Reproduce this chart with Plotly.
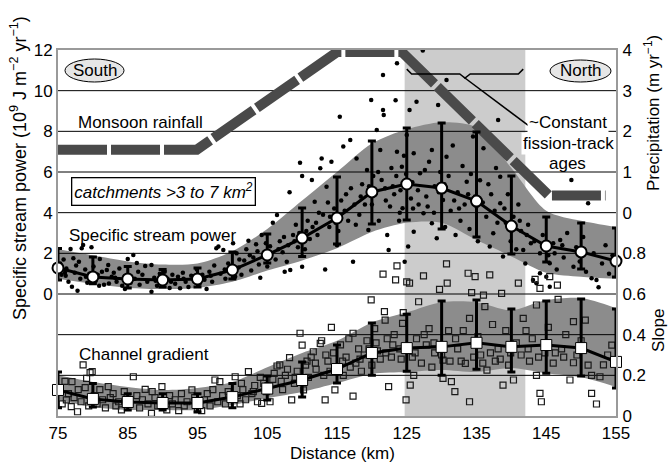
import plotly.graph_objects as go

# ---------------- data ----------------
km_bins = [75, 80, 85, 90, 95, 100, 105, 110, 115, 120, 125, 130, 135, 140, 145, 150, 155]

# specific stream power (10^9 J m^-2 yr^-1): bin means, error-bar ends, envelope
sp_mean = [1.28, 0.84, 0.74, 0.69, 0.74, 1.18, 1.92, 2.75, 3.74, 5.02, 5.41, 5.21, 4.57, 3.34, 2.36, 2.07, 1.62]
sp_hi = [2.24, 1.82, 1.35, 1.20, 1.28, 2.07, 2.95, 4.23, 5.75, 7.53, 8.17, 8.41, 7.97, 5.80, 3.79, 3.49, 3.25]
sp_lo = [0.69, 0.50, 0.30, 0.34, 0.34, 0.74, 1.52, 1.85, 2.46, 3.44, 3.64, 3.20, 2.80, 1.97, 1.57, 1.23, 0.84]
sp_env_hi = [2.2, 1.9, 1.6, 1.45, 1.5, 2.1, 3.2, 4.6, 6.0, 7.4, 8.1, 8.45, 8.2, 6.2, 4.1, 3.6, 3.3]
sp_env_lo = [0.75, 0.5, 0.3, 0.25, 0.3, 0.6, 1.15, 1.65, 2.25, 3.05, 3.5, 3.5, 2.65, 1.85, 1.05, 0.85, 0.75]

# channel gradient (slope)
sl_mean = [0.128, 0.084, 0.069, 0.064, 0.064, 0.093, 0.135, 0.177, 0.231, 0.31, 0.334, 0.34, 0.36, 0.34, 0.349, 0.334, 0.266]
sl_hi = [0.216, 0.16, 0.11, 0.11, 0.11, 0.16, 0.197, 0.266, 0.349, 0.457, 0.5, 0.566, 0.57, 0.526, 0.566, 0.575, 0.526]
sl_lo = [0.04, 0.044, 0.03, 0.03, 0.02, 0.04, 0.079, 0.093, 0.162, 0.2, 0.22, 0.2, 0.23, 0.216, 0.21, 0.197, 0.138]
sl_env_hi = [0.2, 0.167, 0.143, 0.128, 0.138, 0.167, 0.24, 0.31, 0.37, 0.46, 0.51, 0.56, 0.56, 0.52, 0.57, 0.58, 0.53]
sl_env_lo = [0.08, 0.044, 0.03, 0.03, 0.03, 0.054, 0.088, 0.118, 0.162, 0.207, 0.216, 0.226, 0.216, 0.236, 0.21, 0.19, 0.143]

# monsoon rainfall profile (m/yr)
rain_km = [75, 94.9, 115.0, 124.3, 145.4, 153.5]
rain_p = [1.55, 1.55, 3.95, 3.95, 0.42, 0.42]

# zone of ~constant fission-track ages (km)
ft_zone = [124.7, 142.0]

# individual catchments: stream power
sp_dots_south = [
    [75.3, 1.5], [75.5, 0.95], [75.8, 1.7], [76.1, 0.9], [76.2, 1.25], [76.5, 0.6], [76.8, 2.21], [77.0, 0.36],
    [77.2, 1.76], [77.4, 1.05], [77.8, 0.16], [78.0, 1.59], [78.2, 0.75], [78.4, 2.25], [78.6, 2.41], [78.9, 1.2],
    [79.2, 0.55], [79.5, 1.0], [79.8, 2.3], [80.1, 1.35], [80.4, 0.65], [80.7, 0.95], [81.0, 1.72], [81.3, 1.1],
    [81.6, 0.45], [82.0, 1.18], [82.2, 1.43], [82.3, 0.52], [82.7, 0.85], [83.0, 1.05], [83.4, 0.6], [83.8, 1.25],
    [84.2, 0.4], [84.6, 0.25], [84.9, 0.9], [85.0, 1.72], [85.4, 0.55], [85.8, 1.92], [86.0, 0.75], [86.3, 1.52],
    [86.7, 0.45], [87.1, 0.95], [87.5, 1.38], [87.8, 0.6], [88.4, 1.43], [88.4, 0.11], [88.8, 0.8], [89.2, 0.4],
    [89.6, 1.0], [90.0, 0.55], [90.3, 1.1], [90.7, 0.75], [91.0, 0.3], [91.4, 0.95], [91.8, 0.5], [92.2, 0.85],
    [92.5, 0.28], [92.9, 1.05], [93.3, 0.6], [93.7, 0.35], [94.1, 0.9], [94.5, 0.65], [94.9, 1.2], [95.3, 0.5],
    [95.7, 0.95], [96.0, 0.7], [96.3, 0.25], [96.7, 1.1], [97.1, 0.6], [97.4, 1.4], [97.7, 2.25], [98.0, 2.33],
    [98.3, 1.0], [98.7, 2.16], [99.0, 0.75], [99.4, 1.5], [99.8, 1.05],
    [76.0, 1.05], [77.6, 1.4], [79.0, 0.85], [80.9, 0.4], [83.2, 0.8], [86.5, 1.1], [89.0, 0.65], [91.2, 0.6],
    [93.0, 0.75], [95.0, 0.85], [96.9, 0.9], [98.9, 1.2],
]
sp_dots_mid = [
    [100.1, 2.49], [100.4, 0.85], [100.6, 2.0], [100.9, 1.3], [101.3, 0.95], [101.7, 1.65], [102.0, 2.2], [102.3, 2.62],
    [102.7, 1.15], [103.0, 1.8], [103.4, 2.45], [103.8, 1.45], [104.0, 0.8], [104.2, 2.9], [104.6, 1.95], [105.0, 1.35],
    [105.4, 2.35], [105.8, 3.5], [106.2, 1.7], [106.4, 3.89], [106.8, 2.6], [107.2, 2.05], [107.5, 1.1], [107.8, 1.59],
    [108.2, 5.0], [108.3, 1.18], [108.7, 2.9], [109.1, 3.4], [109.4, 2.3], [109.7, 6.46], [110.0, 5.8], [110.0, 1.34],
    [110.4, 2.2], [110.8, 3.6], [111.1, 2.7], [111.4, 5.61], [111.8, 4.54], [112.2, 2.9], [112.6, 6.18], [112.8, 6.67],
    [113.0, 3.9], [113.3, 1.21], [113.5, 5.28], [113.9, 3.3], [114.2, 6.51], [114.6, 4.2], [115.0, 2.4], [115.2, 3.1],
    [115.4, 8.72], [115.9, 7.25], [116.3, 4.9], [116.6, 3.6], [116.9, 7.57], [117.3, 1.59], [117.5, 4.4], [117.8, 6.67],
    [118.2, 3.9], [118.6, 5.4], [119.0, 4.4], [119.3, 6.1], [119.5, 3.15], [119.9, 9.54], [120.2, 5.8], [120.5, 4.9],
    [120.7, 8.07], [121.0, 3.6], [121.2, 7.08], [121.4, 5.61], [121.6, 10.77], [121.6, 9.05], [121.7, 8.8], [122.0, 4.6],
    [122.2, 2.9], [122.4, 2.16], [122.8, 6.2], [123.0, 5.3], [123.2, 4.9], [123.4, 9.53], [123.6, 11.35], [123.6, 7.0],
    [123.9, 3.6], [124.0, 4.0], [124.3, 6.26], [124.4, 4.22], [124.7, 1.59], [124.9, 5.9],
    [101.0, 1.7], [102.5, 1.9], [103.6, 2.1], [104.8, 2.5], [105.6, 2.0], [106.6, 2.2], [107.4, 2.8], [108.0, 2.4],
    [108.9, 2.6], [109.6, 3.0], [110.6, 3.1], [111.5, 3.3], [112.0, 3.5], [112.4, 4.0], [113.7, 4.5], [114.0, 3.8],
    [114.8, 3.5], [115.6, 4.6], [116.1, 4.1], [117.0, 5.2], [117.7, 3.4], [118.4, 4.8], [119.6, 5.3], [120.0, 4.4],
    [120.9, 6.0], [121.9, 5.2], [122.6, 4.3], [123.5, 5.8], [124.1, 5.1], [124.6, 6.8],
]
sp_dots_north = [
    [125.0, 7.82], [125.2, 2.33], [125.4, 9.05], [125.6, 4.7], [125.8, 5.5], [126.0, 6.92], [126.0, 3.06], [126.4, 9.46],
    [126.7, 4.4], [126.9, 5.94], [127.3, 11.97], [127.4, 3.97], [127.8, 4.8], [128.2, 6.5], [128.6, 7.08], [128.6, 3.48],
    [129.0, 5.3], [129.3, 2.74], [129.5, 9.3], [129.8, 6.0], [130.2, 4.62], [130.5, 3.3], [130.7, 10.53], [130.7, 6.75],
    [131.0, 5.8], [131.3, 4.1], [131.6, 7.3], [132.0, 2.9], [132.3, 5.0], [132.7, 3.6], [133.0, 6.3], [133.3, 4.4],
    [133.6, 5.52], [134.0, 3.2], [134.5, 7.74], [134.8, 4.8], [135.2, 2.6], [135.5, 5.6], [136.0, 7.17], [136.4, 3.8],
    [136.9, 2.33], [137.1, 4.9], [137.4, 2.99], [137.8, 6.2], [138.1, 8.56], [138.4, 5.77], [138.4, 4.46], [138.8, 1.84],
    [139.2, 3.5], [139.5, 4.9], [139.9, 2.6], [140.3, 3.8], [140.7, 2.2], [141.0, 4.4], [141.4, 3.1], [141.7, 2.16],
    [142.0, 1.5], [142.4, 3.4], [142.8, 2.5], [143.1, 0.69], [143.6, 0.53], [144.1, 2.0], [144.1, 1.02], [144.5, 2.9],
    [145.0, 0.85], [145.3, 1.9], [145.5, 1.51], [145.5, 0.36], [146.0, 2.5], [146.5, 1.2], [147.0, 2.66], [147.5, 1.8],
    [148.0, 3.0], [148.6, 5.61], [148.9, 1.34], [149.3, 2.3], [149.8, 1.6], [150.3, 2.8], [150.7, 1.1], [151.0, 4.46],
    [151.5, 0.77], [151.8, 2.0], [152.2, 0.69], [152.5, 0.33], [153.0, 1.5], [153.5, 2.4], [154.0, 1.0], [154.5, 1.9],
    [125.9, 4.2], [126.6, 5.1], [127.6, 6.1], [128.0, 4.3], [128.9, 4.0], [129.6, 5.0], [130.4, 5.4], [131.8, 4.6],
    [132.5, 4.2], [133.8, 4.9], [134.2, 5.9], [135.0, 4.3], [135.9, 4.5], [136.7, 5.4], [137.6, 4.1], [138.0, 3.5],
    [139.0, 4.2], [140.0, 3.1], [141.2, 3.6], [142.2, 2.9], [143.3, 2.6], [144.8, 2.3], [146.2, 2.0], [147.3, 2.4],
]

# individual catchments: channel gradient
sl_dots_south = [
    [75.3, 0.13], [75.6, 0.06], [76.0, 0.17], [76.2, 0.079], [76.5, 0.11], [76.9, 0.046], [77.0, 0.169], [77.3, 0.09],
    [77.8, 0.021], [77.9, 0.13], [78.3, 0.07], [78.6, 0.251], [78.9, 0.14], [79.1, 0.185], [79.4, 0.05], [79.6, 0.213],
    [79.9, 0.218], [80.2, 0.1], [80.6, 0.06], [81.0, 0.13], [81.4, 0.08], [81.8, 0.04], [82.2, 0.144], [82.5, 0.09],
    [82.9, 0.11], [83.3, 0.05], [83.7, 0.07], [84.1, 0.03], [84.5, 0.12], [84.9, 0.09], [85.3, 0.06], [85.8, 0.193],
    [86.3, 0.1], [86.7, 0.04], [87.1, 0.08], [87.5, 0.131], [87.9, 0.06], [88.4, 0.013], [88.5, 0.12], [88.9, 0.09],
    [89.3, 0.05], [89.9, 0.144], [90.2, 0.07], [90.6, 0.03], [91.0, 0.1], [91.4, 0.06], [91.8, 0.08], [92.3, 0.026],
    [92.7, 0.11], [93.1, 0.05], [93.5, 0.07], [94.2, 0.128], [94.6, 0.09], [95.0, 0.04], [95.6, 0.026], [96.0, 0.08],
    [96.4, 0.11], [96.8, 0.05], [97.2, 0.13], [97.5, 0.177], [97.9, 0.07], [98.2, 0.169], [98.6, 0.1], [99.0, 0.06],
    [99.4, 0.12], [99.8, 0.085],
]
sl_dots_mid = [
    [100.4, 0.193], [100.7, 0.1], [101.1, 0.06], [101.5, 0.13], [101.9, 0.08], [102.3, 0.218], [102.8, 0.11], [103.2, 0.15],
    [103.6, 0.07], [104.2, 0.062], [104.5, 0.16], [104.9, 0.12], [105.4, 0.07], [105.8, 0.18], [106.4, 0.246], [106.8, 0.251],
    [107.2, 0.13], [107.6, 0.2], [108.2, 0.287], [108.5, 0.079], [108.9, 0.16], [109.3, 0.22], [109.7, 0.407], [110.0, 0.349],
    [110.2, 0.128], [110.5, 0.25], [110.9, 0.19], [111.3, 0.29], [111.6, 0.316], [112.0, 0.23], [112.6, 0.357], [112.8, 0.37],
    [113.1, 0.2], [113.3, 0.079], [113.7, 0.27], [114.2, 0.436], [114.5, 0.31], [114.7, 0.128], [115.1, 0.24], [115.5, 0.35],
    [115.9, 0.2], [116.3, 0.29], [116.7, 0.38], [117.3, 0.407], [117.3, 0.098], [117.7, 0.26], [118.1, 0.33], [118.5, 0.22],
    [118.9, 0.3], [119.3, 0.37], [119.9, 0.571], [120.0, 0.25], [120.4, 0.43], [120.8, 0.32], [121.2, 0.28], [121.6, 0.698],
    [121.8, 0.513], [121.9, 0.472], [122.2, 0.38], [122.4, 0.144], [122.8, 0.29], [123.2, 0.4], [123.4, 0.669], [123.6, 0.738],
    [124.0, 0.33], [124.4, 0.456], [124.5, 0.508], [124.9, 0.079],
    [101.3, 0.16], [103.0, 0.12], [104.0, 0.19], [105.1, 0.15], [106.0, 0.21], [107.0, 0.17], [107.9, 0.23], [109.0, 0.19],
    [110.7, 0.27], [111.9, 0.26], [113.4, 0.3], [114.0, 0.22], [115.8, 0.27], [116.9, 0.24], [118.3, 0.28], [119.6, 0.33],
    [120.6, 0.36], [122.0, 0.31], [123.0, 0.35], [124.2, 0.28],
]
sl_dots_north = [
    [125.0, 0.66], [125.4, 0.653], [125.5, 0.152], [125.8, 0.29], [126.0, 0.2], [126.4, 0.38], [126.7, 0.562], [127.1, 0.26],
    [127.4, 0.689], [127.8, 0.35], [128.2, 0.43], [128.6, 0.24], [129.0, 0.31], [129.7, 0.623], [130.2, 0.185], [130.2, 0.275],
    [130.7, 0.748], [130.8, 0.653], [131.0, 0.42], [131.4, 0.169], [131.9, 0.12], [132.3, 0.33], [132.8, 0.27], [133.4, 0.259],
    [133.8, 0.702], [134.0, 0.48], [134.0, 0.07], [134.3, 0.607], [134.8, 0.685], [135.2, 0.39], [135.6, 0.3], [136.0, 0.594],
    [136.2, 0.538], [136.5, 0.226], [136.9, 0.694], [137.3, 0.45], [137.7, 0.27], [138.1, 0.33], [138.6, 0.603], [138.8, 0.152],
    [139.2, 0.42], [139.6, 0.25], [140.3, 0.177], [140.7, 0.36], [141.0, 0.653], [141.4, 0.3], [141.7, 0.48], [142.1, 0.42],
    [142.6, 0.27], [143.0, 0.38], [143.4, 0.672], [143.6, 0.546], [143.6, 0.2], [144.1, 0.628], [144.1, 0.111], [144.3, 0.07],
    [144.8, 0.31], [145.3, 0.436], [145.5, 0.685], [146.0, 0.26], [146.6, 0.644], [146.7, 0.574], [147.2, 0.33], [147.8, 0.4],
    [148.4, 0.177], [148.9, 0.464], [148.9, 0.262], [149.4, 0.3], [150.0, 0.37], [150.6, 0.472], [151.0, 0.25], [151.5, 0.2],
    [151.5, 0.111], [152.2, 0.059], [152.7, 0.193], [153.2, 0.251], [153.8, 0.3], [154.4, 0.349],
    [126.2, 0.31], [127.5, 0.4], [128.9, 0.36], [130.0, 0.3], [131.2, 0.27], [132.0, 0.38], [133.1, 0.42], [134.6, 0.29],
    [135.9, 0.26], [137.0, 0.31], [138.4, 0.28], [139.9, 0.31], [142.4, 0.33], [143.9, 0.29], [146.3, 0.31], [147.5, 0.29],
]

# axis ticks
x_ticks = [75, 85, 95, 105, 115, 125, 135, 145, 155]
sp_ticks = [0, 2, 4, 6, 8, 10, 12]
p_ticks = [0, 1, 2, 3, 4]
sl_ticks = [0, 0.2, 0.4, 0.6, 0.8]
sl_ticktext = ["0", "0.2", "0.4", "0.6", "0.8"]
grid_levels = [-4, -2, 0, 2, 4, 6, 8, 10]   # horizontal rules (left-axis units)

# bracket marking the fission-track zone (km, precipitation units)
brace_km = [125.0, 125.7, 132.6, 133.35, 134.1, 141.0, 141.7]
brace_p = [3.53, 3.41, 3.41, 3.31, 3.41, 3.41, 3.53]
pointer_km = [133.2, 142.7]
pointer_p = [3.33, 2.11]

# ---------------- style / layout helpers ----------------
FONT = "Liberation Sans, Arial, Helvetica, sans-serif"
L, R, T, B = 58, 616, 50, 416
W, H = 669, 464
DARK = "#8c8c8c"
LIGHT = "#cccccc"


def pxx(px):
    return (px - L) / (R - L)


def pxy(py):
    return (B - py) / (B - T)


def unzip(*groups):
    xs, ys = [], []
    for g in groups:
        for a, b in g:
            xs.append(a)
            ys.append(b)
    return xs, ys


fig = go.Figure()

# stream-power envelope (main left axis)
fig.add_trace(go.Scatter(x=km_bins, y=sp_env_lo, mode="lines", line=dict(width=0, shape="spline", smoothing=0.8),
                         yaxis="y", hoverinfo="skip"))
fig.add_trace(go.Scatter(x=km_bins, y=sp_env_hi, mode="lines", line=dict(width=0, shape="spline", smoothing=0.8),
                         fill="tonexty", fillcolor=DARK, yaxis="y", hoverinfo="skip"))
spx, spy = unzip(sp_dots_south, sp_dots_mid, sp_dots_north)
fig.add_trace(go.Scatter(x=spx, y=spy, mode="markers", marker=dict(size=4.5, color="black"),
                         yaxis="y", cliponaxis=False, hoverinfo="skip"))

# slope envelope (slope axis, y2)
fig.add_trace(go.Scatter(x=km_bins, y=sl_env_lo, mode="lines", line=dict(width=0, shape="spline", smoothing=0.8),
                         yaxis="y2", hoverinfo="skip"))
fig.add_trace(go.Scatter(x=km_bins, y=sl_env_hi, mode="lines", line=dict(width=0, shape="spline", smoothing=0.8),
                         fill="tonexty", fillcolor=DARK, yaxis="y2", hoverinfo="skip"))

# horizontal rules (overlay of left axis, y3)
gx, gy = [], []
for g in grid_levels:
    gx += [75, 155, None]
    gy += [g, g, None]
fig.add_trace(go.Scatter(x=gx, y=gy, mode="lines", line=dict(color="black", width=1), yaxis="y3",
                         hoverinfo="skip"))

# monsoon rainfall (precipitation axis, y4)
fig.add_trace(go.Scatter(x=rain_km, y=rain_p, mode="lines",
                         line=dict(color="#4a4a4a", width=10, dash="49px,4px"), yaxis="y4", hoverinfo="skip"))
fig.add_trace(go.Scatter(x=brace_km, y=brace_p, mode="lines", line=dict(color="black", width=1.5),
                         yaxis="y4", hoverinfo="skip"))
fig.add_trace(go.Scatter(x=pointer_km, y=pointer_p, mode="lines", line=dict(color="black", width=1.5),
                         yaxis="y4", hoverinfo="skip"))

# slope catchments and bin means (slope overlay, y5)
slx, sly = unzip(sl_dots_south, sl_dots_mid, sl_dots_north)
fig.add_trace(go.Scatter(x=slx, y=sly, mode="markers",
                         marker=dict(symbol="square-open", size=6, color="#1a1a1a", line=dict(width=1.2)),
                         yaxis="y5", cliponaxis=False, hoverinfo="skip"))
fig.add_trace(go.Scatter(
    x=km_bins, y=sl_mean, mode="lines+markers", yaxis="y5", cliponaxis=False, hoverinfo="skip",
    line=dict(color="black", width=3),
    marker=dict(symbol="square", size=11, color="white", line=dict(color="black", width=1)),
    error_y=dict(type="data", symmetric=False,
                 array=[h - m for h, m in zip(sl_hi, sl_mean)],
                 arrayminus=[m - lo for m, lo in zip(sl_mean, sl_lo)],
                 color="black", thickness=3, width=4)))

# stream-power bin means (left overlay, y6)
fig.add_trace(go.Scatter(
    x=km_bins, y=sp_mean, mode="lines+markers", yaxis="y6", cliponaxis=False, hoverinfo="skip",
    line=dict(color="black", width=3),
    marker=dict(symbol="circle", size=11, color="white", line=dict(color="black", width=2)),
    error_y=dict(type="data", symmetric=False,
                 array=[h - m for h, m in zip(sp_hi, sp_mean)],
                 arrayminus=[m - lo for m, lo in zip(sp_mean, sp_lo)],
                 color="black", thickness=3, width=4)))

tickfont = dict(family=FONT, size=17, color="black")
hidden = dict(overlaying="y", visible=False, anchor="x")

fig.update_layout(
    width=W, height=H,
    margin=dict(l=L, r=W - R, t=T, b=H - B, pad=0),
    paper_bgcolor="white", plot_bgcolor="white",
    showlegend=False,
    font=dict(family=FONT, size=17, color="black"),
    xaxis=dict(range=[75, 155], tickvals=x_ticks, showgrid=False, zeroline=False,
               showline=True, linecolor="#9a9a9a", linewidth=2, mirror=True,
               ticks="outside", ticklen=1, tickcolor="rgba(0,0,0,0)", tickfont=tickfont),
    yaxis=dict(range=[-6, 12], tickvals=sp_ticks, showgrid=False, zeroline=False,
               showline=True, linecolor="#9a9a9a", linewidth=2, mirror=True,
               ticks="", tickfont=tickfont),
    yaxis2=dict(range=[0, 1.8], tickvals=sl_ticks, ticktext=sl_ticktext, overlaying="y", side="right",
                anchor="x", showgrid=False, zeroline=False, showline=False,
                ticks="outside", ticklen=2, tickcolor="rgba(0,0,0,0)", tickfont=tickfont),
    yaxis3=dict(range=[-6, 12], **hidden),
    yaxis4=dict(range=[-5, 4], tickvals=p_ticks, overlaying="y", side="right", anchor="x",
                showgrid=False, zeroline=False, showline=False,
                ticks="outside", ticklen=2, tickcolor="rgba(0,0,0,0)", tickfont=tickfont),
    yaxis5=dict(range=[0, 1.8], **hidden),
    yaxis6=dict(range=[-6, 12], **hidden),
)

# fission-track zone band
fig.add_shape(type="rect", xref="x", yref="paper", x0=ft_zone[0], x1=ft_zone[1], y0=0, y1=1,
              fillcolor=LIGHT, line=dict(width=0), layer="below")

# South / North ellipses
for (x0, x1, y0, y1) in [(65, 124, 59, 82), (550, 611, 60, 82)]:
    fig.add_shape(type="circle", xref="paper", yref="paper", x0=pxx(x0), x1=pxx(x1), y0=pxy(y1), y1=pxy(y0),
                  fillcolor="#e6e6e6", line=dict(color="black", width=1), layer="above")

ann = []


def text(s, px, py, xanchor="left", size=17, **kw):
    ann.append(dict(text=s, x=pxx(px), y=pxy(py), xref="paper", yref="paper", showarrow=False,
                    xanchor=xanchor, yanchor="middle", font=dict(family=FONT, size=size, color="black"), **kw))


text("South", 94.5, 71, "center")
text("North", 580.5, 71, "center")
text("Monsoon rainfall", 76, 122)
text("Specific stream power", 67, 235)
text("Channel gradient", 77, 354)
text("<i>catchments >3 to 7 km<sup>2</sup></i>", 163, 191, "center",
     bordercolor="black", borderwidth=1.3, borderpad=2, bgcolor="white")
text("~Constant", 568, 122, "center", bgcolor="white")
text("fission-track", 568, 143, "center", bgcolor="white")
text("ages", 567, 163, "center")
text("Distance (km)", 342, 453, "center")
text("Specific stream power (10<sup>9</sup> J m<sup>\u22122</sup> yr<sup>\u22121</sup>)", 18, 168, "center",
     size=18, textangle=-90)
text("Precipitation (m yr<sup>\u22121</sup>)", 652, 113, "center", textangle=-90)
text("Slope", 658, 331, "center", textangle=-90)

fig.update_layout(annotations=ann)

fig.write_html("out.html", config={"displayModeBar": False},
               post_script="document.body.style.margin='0px';document.body.style.padding='0px';")
